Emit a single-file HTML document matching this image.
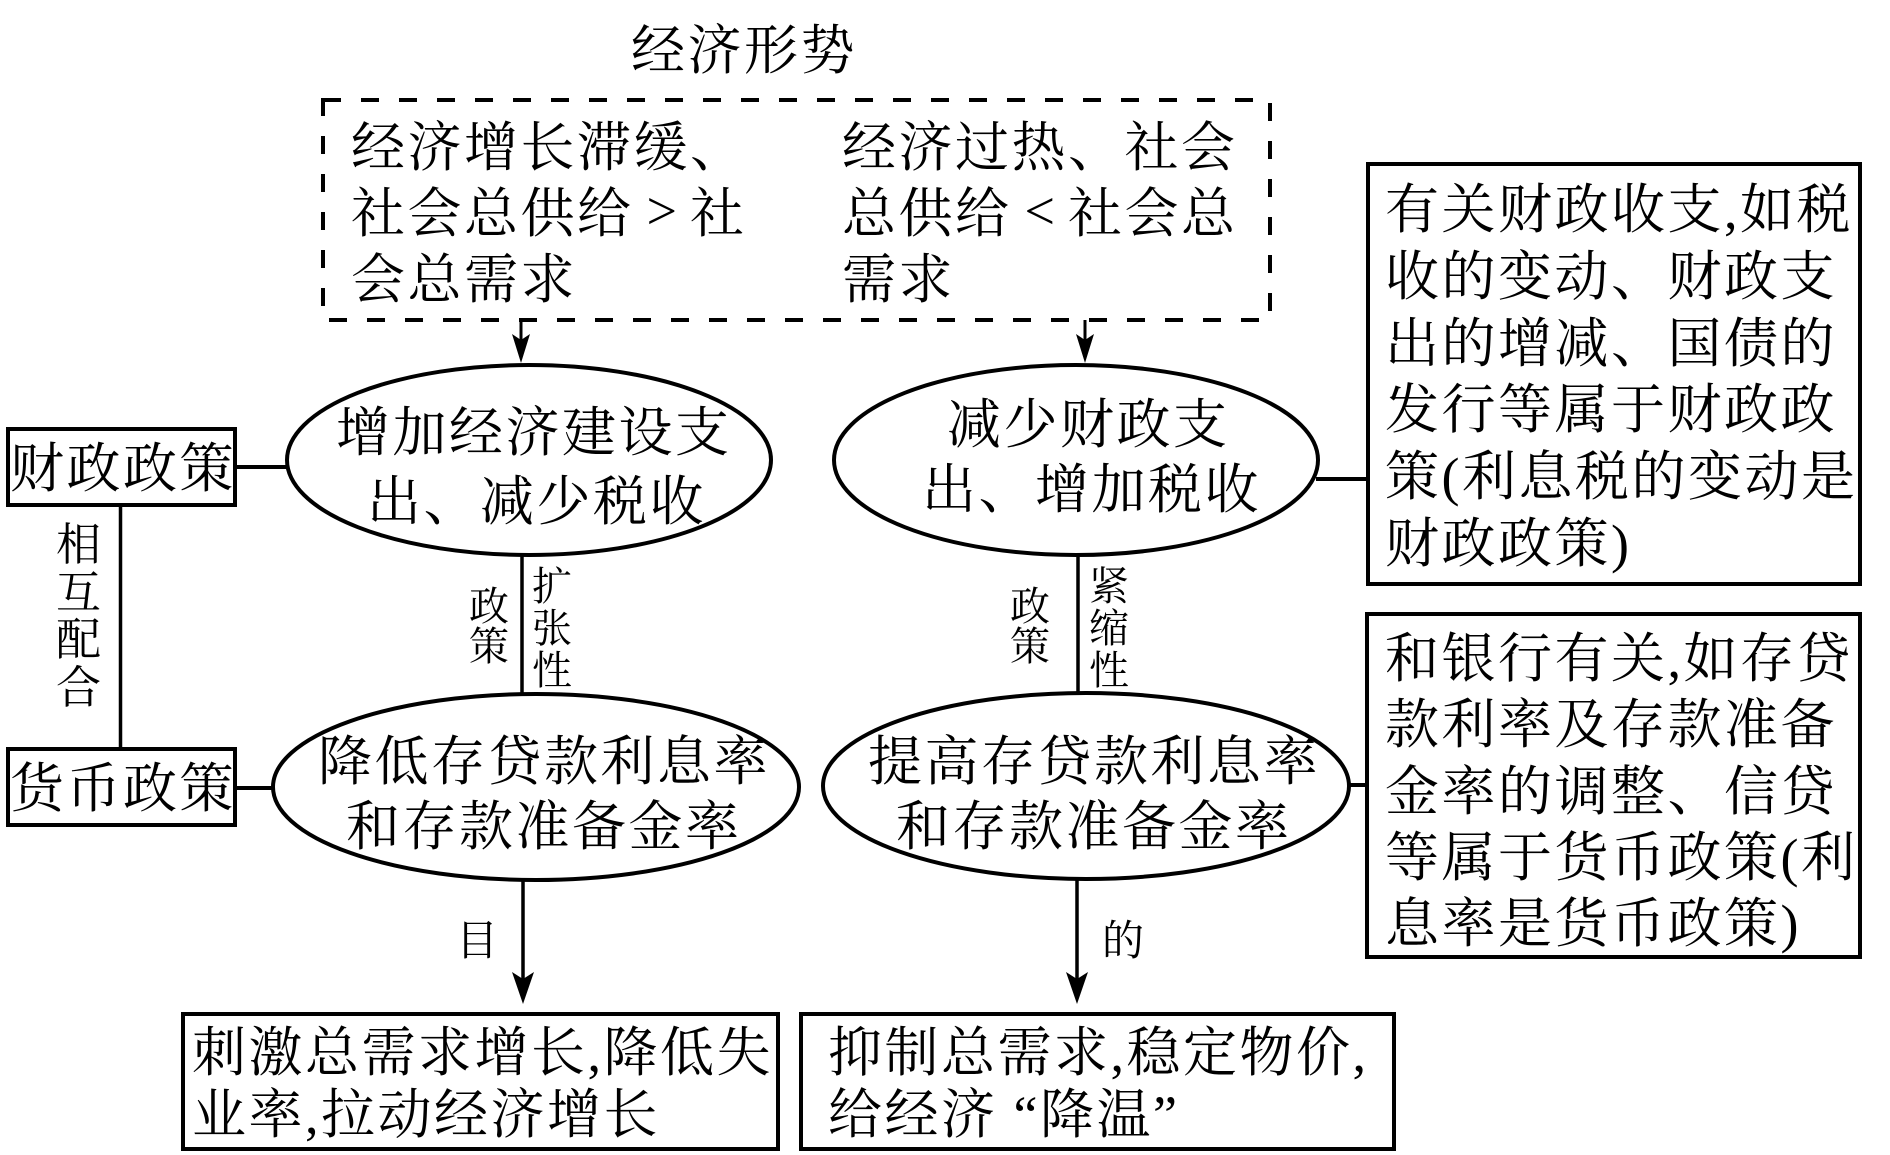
<!DOCTYPE html>
<html><head><meta charset="utf-8">
<style>
html,body{margin:0;padding:0;background:#fff;}
#c{position:relative;width:1890px;height:1155px;overflow:hidden;background:#fff;}
svg{position:absolute;left:0;top:0;}
.t{position:absolute;white-space:nowrap;color:#000;font-family:"Liberation Serif","Noto Serif CJK SC",serif;font-size:54px;letter-spacing:2.5px;line-height:66px;}
.v{position:absolute;white-space:nowrap;color:#000;font-family:"Liberation Serif","Noto Serif CJK SC",serif;font-size:40px;line-height:40px;width:44px;}
.cmp{display:inline-block;width:56.5px;text-align:center;font-size:54px;letter-spacing:0;position:relative;top:-3px;}
</style></head><body><div id="c">
<svg width="1890" height="1155" viewBox="0 0 1890 1155">
<g fill="none" stroke="#000">
<rect x="323" y="100" width="947" height="220" stroke-width="4" stroke-dasharray="18 20"/>
<ellipse cx="529" cy="460" rx="242" ry="95" stroke-width="4"/>
<ellipse cx="1076" cy="460" rx="242" ry="95" stroke-width="4"/>
<ellipse cx="536" cy="787" rx="263" ry="93" stroke-width="4"/>
<ellipse cx="1086" cy="786" rx="263" ry="93" stroke-width="4"/>
<rect x="8" y="429" width="227" height="76" stroke-width="4"/>
<rect x="8" y="749" width="227" height="76" stroke-width="4"/>
<rect x="1368" y="164" width="492" height="420" stroke-width="4"/>
<rect x="1367" y="614" width="493" height="343" stroke-width="4"/>
<rect x="183" y="1014" width="595" height="135" stroke-width="4"/>
<rect x="801" y="1014" width="593" height="135" stroke-width="4"/>
<line x1="521" y1="320" x2="521" y2="345" stroke-width="3"/>
<line x1="1085" y1="320" x2="1085" y2="345" stroke-width="3"/>
<line x1="235" y1="467" x2="288" y2="467" stroke-width="4"/>
<line x1="120.5" y1="505" x2="120.5" y2="749" stroke-width="3.5"/>
<line x1="235" y1="788" x2="274" y2="788" stroke-width="4"/>
<line x1="1316" y1="479" x2="1368" y2="479" stroke-width="4"/>
<line x1="1347" y1="785" x2="1367" y2="785" stroke-width="4"/>
<line x1="522" y1="555" x2="522" y2="694" stroke-width="3.5"/>
<line x1="1078" y1="555" x2="1078" y2="693" stroke-width="3.5"/>
<line x1="523" y1="879" x2="523" y2="990" stroke-width="3.5"/>
<line x1="1077" y1="878" x2="1077" y2="990" stroke-width="3.5"/>
</g>
<g fill="#000" stroke="none">
<polygon points="521,363 512,334 521,340 530,334"/>
<polygon points="1085,363 1076,334 1085,340 1094,334"/>
<polygon points="523,1004 512,972 523,979 534,972"/>
<polygon points="1077,1004 1066,972 1077,979 1088,972"/>
</g>
</svg>

<div class="t" style="left:631px;top:18px;">经济形势</div>

<div class="t" style="left:351px;top:115px;">经济增长滞缓、<br>社会总供给<span class="cmp">&gt;</span>社<br>会总需求</div>
<div class="t" style="left:842px;top:115px;">经济过热、社会<br>总供给<span class="cmp">&lt;</span>社会总<br>需求</div>

<div class="t" style="left:336px;top:400px;">增加经济建设支</div>
<div class="t" style="left:367px;top:469px;">出、减少税收</div>

<div class="t" style="left:947px;top:392px;">减少财政支</div>
<div class="t" style="left:922px;top:457px;">出、增加税收</div>

<div class="t" style="left:318px;top:729px;">降低存贷款利息率</div>
<div class="t" style="left:346px;top:794px;">和存款准备金率</div>

<div class="t" style="left:868px;top:729px;">提高存贷款利息率</div>
<div class="t" style="left:896px;top:794px;">和存款准备金率</div>

<div class="t" style="left:10px;top:436px;">财政政策</div>
<div class="t" style="left:10px;top:756px;">货币政策</div>

<div class="t" style="left:1385px;top:177px;line-height:66.8px;">有关财政收支,如税<br>收的变动、财政支<br>出的增减、国债的<br>发行等属于财政政<br>策(利息税的变动是<br>财政政策)</div>

<div class="t" style="left:1385px;top:626px;line-height:66.3px;">和银行有关,如存贷<br>款利率及存款准备<br>金率的调整、信贷<br>等属于货币政策(利<br>息率是货币政策)</div>

<div class="t" style="left:192px;top:1022px;line-height:62px;">刺激总需求增长,降低失<br>业率,拉动经济增长</div>
<div class="t" style="left:828px;top:1022px;line-height:62px;">抑制总需求,稳定物价,<br>给经济 “降温”</div>

<div class="v" style="left:56px;top:522px;font-size:45px;line-height:47.7px;">相<br>互<br>配<br>合</div>

<div class="v" style="left:469px;top:587px;">政<br>策</div>
<div class="v" style="left:532px;top:566px;line-height:42px;">扩<br>张<br>性</div>
<div class="v" style="left:1010px;top:587px;">政<br>策</div>
<div class="v" style="left:1089px;top:566px;line-height:42px;">紧<br>缩<br>性</div>

<div class="v" style="left:456px;top:921px;font-size:42px;line-height:42px;">目</div>
<div class="v" style="left:1102px;top:921px;font-size:42px;line-height:42px;">的</div>
</div></body></html>
